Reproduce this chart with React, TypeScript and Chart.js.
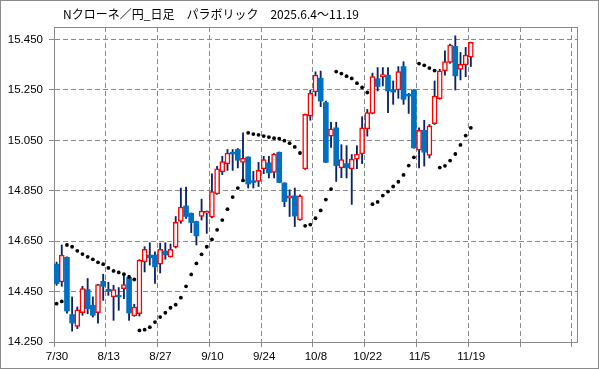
import React, { useEffect, useRef } from 'react';
import { Chart, registerables } from 'chart.js';

Chart.register(...registerables);

const TITLE = 'Nクローネ／円_日足　パラボリック　2025.6.4～11.19';

const dates = [
  '7/30', '7/31', '8/1', '8/4', '8/5', '8/6', '8/7', '8/8', '8/11', '8/12',
  '8/13', '8/14', '8/15', '8/18', '8/19', '8/20', '8/21', '8/22', '8/25', '8/26',
  '8/27', '8/28', '8/29', '9/1', '9/2', '9/3', '9/4', '9/5', '9/8', '9/9',
  '9/10', '9/11', '9/12', '9/15', '9/16', '9/17', '9/18', '9/19', '9/22', '9/23',
  '9/24', '9/25', '9/26', '9/29', '9/30', '10/1', '10/2', '10/3', '10/6', '10/7',
  '10/8', '10/9', '10/10', '10/13', '10/14', '10/15', '10/16', '10/17', '10/20', '10/21',
  '10/22', '10/23', '10/24', '10/27', '10/28', '10/29', '10/30', '10/31', '11/3', '11/4',
  '11/5', '11/6', '11/7', '11/10', '11/11', '11/12', '11/13', '11/14', '11/17', '11/18',
  '11/19',
];

const openP = [
  14.559, 14.488, 14.586, 14.359, 14.312, 14.366, 14.458, 14.396, 14.366, 14.491,
  14.459, 14.429, 14.435, 14.462, 14.506, 14.353, 14.362, 14.568, 14.595, 14.595,
  14.559, 14.611, 14.588, 14.626, 14.728, 14.790, 14.761, 14.728, 14.748, 14.761,
  14.745, 14.838, 14.925, 14.957, 15.003, 15.014, 14.963, 14.984, 14.890, 14.887,
  14.937, 14.961, 14.923, 15.003, 14.881, 14.821, 14.830, 14.734, 14.937, 15.146,
  15.242, 15.297, 15.200, 15.067, 15.100, 14.941, 14.958, 14.937, 14.976, 14.996,
  15.096, 15.157, 15.295, 15.303, 15.309, 15.250, 15.250, 15.343, 15.233, 15.250,
  15.011, 15.090, 14.990, 15.116, 15.216, 15.326, 15.359, 15.423, 15.332, 15.350,
  15.380,
];

const highP = [
  14.567, 14.635, 14.588, 14.429, 14.389, 14.471, 14.502, 14.429, 14.479, 14.519,
  14.487, 14.475, 14.466, 14.515, 14.515, 14.400, 14.577, 14.628, 14.644, 14.608,
  14.642, 14.644, 14.639, 14.748, 14.861, 14.865, 14.762, 14.730, 14.817, 14.770,
  14.917, 14.947, 14.987, 15.014, 15.014, 15.018, 15.080, 14.985, 14.927, 14.963,
  14.987, 14.987, 14.998, 15.004, 14.882, 14.854, 14.861, 14.834, 15.155, 15.250,
  15.322, 15.325, 15.206, 15.122, 15.122, 15.033, 15.029, 14.994, 15.029, 15.144,
  15.173, 15.317, 15.339, 15.339, 15.339, 15.286, 15.343, 15.362, 15.237, 15.252,
  15.100, 15.130, 15.113, 15.286, 15.332, 15.405, 15.432, 15.465, 15.399, 15.419,
  15.440,
];

const lowP = [
  14.475, 14.471, 14.364, 14.293, 14.303, 14.356, 14.362, 14.349, 14.325, 14.415,
  14.435, 14.336, 14.376, 14.422, 14.336, 14.352, 14.353, 14.528, 14.555, 14.482,
  14.524, 14.578, 14.587, 14.623, 14.721, 14.740, 14.684, 14.635, 14.734, 14.681,
  14.742, 14.836, 14.914, 14.931, 14.931, 14.941, 14.887, 14.861, 14.861, 14.867,
  14.918, 14.901, 14.901, 14.882, 14.787, 14.748, 14.708, 14.732, 14.935, 15.130,
  15.226, 15.184, 14.962, 15.022, 14.887, 14.902, 14.901, 14.796, 14.938, 14.958,
  15.067, 15.155, 15.246, 15.266, 15.160, 15.193, 15.217, 15.193, 15.157, 15.019,
  14.941, 14.948, 14.980, 15.113, 15.213, 15.309, 15.356, 15.250, 15.290, 15.303,
  15.343,
];

const closeP = [
  14.482, 14.595, 14.373, 14.325, 14.378, 14.462, 14.382, 14.356, 14.478, 14.471,
  14.451, 14.458, 14.429, 14.478, 14.365, 14.389, 14.575, 14.618, 14.584, 14.548,
  14.618, 14.595, 14.618, 14.725, 14.785, 14.748, 14.724, 14.671, 14.770, 14.769,
  14.847, 14.937, 14.966, 15.000, 14.996, 14.971, 14.980, 14.877, 14.883, 14.931,
  14.974, 14.921, 14.996, 14.883, 14.807, 14.830, 14.750, 14.830, 15.153, 15.237,
  15.309, 15.206, 14.963, 15.096, 14.950, 14.974, 14.941, 14.976, 14.996, 15.100,
  15.160, 15.303, 15.264, 15.311, 15.246, 15.242, 15.323, 15.213, 15.226, 15.020,
  15.090, 15.003, 15.108, 15.226, 15.326, 15.363, 15.428, 15.306, 15.352, 15.389,
  15.439,
];

const sarP = [
  14.402, 14.411, 14.635, 14.628, 14.612, 14.599, 14.588, 14.578, 14.566, 14.559,
  14.544, 14.532, 14.526, 14.519, 14.508, 14.498, 14.296, 14.299, 14.309, 14.329,
  14.349, 14.366, 14.386, 14.398, 14.426, 14.471, 14.518, 14.562, 14.598, 14.628,
  14.657, 14.695, 14.734, 14.777, 14.825, 14.861, 14.891, 15.080, 15.075, 15.072,
  15.067, 15.063, 15.059, 15.057, 15.049, 15.039, 15.024, 15.000, 14.711, 14.716,
  14.741, 14.772, 14.815, 14.857, 15.323, 15.315, 15.305, 15.296, 15.277, 15.260,
  15.240, 14.797, 14.806, 14.831, 14.847, 14.867, 14.886, 14.913, 14.950, 14.983,
  15.355, 15.348, 15.337, 15.327, 14.942, 14.949, 14.970, 14.996, 15.032, 15.069,
  15.100,
];

const yTicks = [14.25, 14.45, 14.65, 14.85, 15.05, 15.25, 15.45];
const xGridTicks = [-0.5, 9.5, 19.5, 29.5, 39.5, 49.5, 59.5, 69.5, 79.5, 89.5, 99.5];

const GRAY = '#8a8a8a';
const UP = '#ff0000';
const DOWN = '#0070c0';
const WICK = '#0c2366';

export default function App() {
  const ref = useRef<HTMLCanvasElement | null>(null);

  useEffect(() => {
    if (!ref.current) return;
    const idx = dates.map((_, i) => i);
    const isUp = idx.map((i) => closeP[i] >= openP[i]);

    const decor = {
      id: 'decor',
      beforeDatasetsDraw(chart: any) {
        const { ctx, chartArea: a } = chart;
        ctx.save();
        ctx.strokeStyle = GRAY;
        ctx.lineWidth = 1;
        const l = Math.round(a.left) + 0.5;
        const t = Math.round(a.top) + 0.5;
        const r = Math.round(a.right) + 0.5;
        const b = Math.round(a.bottom) + 0.5;
        ctx.strokeRect(l, t, r - l, b - t);
        ctx.restore();
      },
      afterDraw(chart: any) {
        const { ctx, width, height } = chart;
        ctx.save();
        ctx.strokeStyle = GRAY;
        ctx.lineWidth = 1;
        ctx.strokeRect(0.5, 0.5, width - 1, height - 1);
        ctx.fillStyle = '#000';
        ctx.font = "12px 'Noto Sans CJK JP', sans-serif";
        ctx.textAlign = 'left';
        ctx.textBaseline = 'middle';
        ctx.fillText(TITLE, 63, 14);
        ctx.restore();
      },
    };

    const chart = new Chart(ref.current, {
      type: 'bar',
      data: {
        datasets: [
          {
            type: 'scatter',
            data: sarP.map((v, i) => ({ x: i, y: v })),
            pointRadius: 1.9,
            pointBackgroundColor: '#000',
            pointBorderWidth: 0,
            pointStyle: 'circle',
            order: 0,
          } as any,
          {
            type: 'bar',
            data: idx.map((i) => ({ x: i, y: [openP[i], closeP[i]] })),
            backgroundColor: idx.map((i) => (isUp[i] ? '#ffffff' : DOWN)),
            borderColor: idx.map((i) => (isUp[i] ? UP : DOWN)),
            borderWidth: idx.map((i) => (isUp[i] ? 1.5 : 0)),
            borderSkipped: false,
            barThickness: 5,
            grouped: false,
            minBarLength: 1.5,
            order: 1,
          } as any,
          {
            type: 'bar',
            data: idx.map((i) => ({ x: i, y: [lowP[i], highP[i]] })),
            backgroundColor: WICK,
            borderWidth: 0,
            barThickness: 1.2,
            grouped: false,
            order: 2,
          } as any,
        ],
      },
      options: {
        responsive: false,
        animation: false,
        events: [],
        layout: { padding: { left: 0, top: 27, right: 22, bottom: 0 } },
        plugins: {
          legend: { display: false },
          title: { display: false },
          tooltip: { enabled: false },
        },
        scales: {
          x: {
            type: 'linear',
            min: -0.5,
            max: 100.5,
            offset: false,
            afterBuildTicks: (s: any) => {
              s.ticks = xGridTicks.map((v) => ({ value: v }));
            },
            afterFit: (s: any) => {
              s.height = 27;
            },
            grid: { offset: false, color: GRAY, lineWidth: 1, tickLength: 5, tickColor: GRAY },
            border: { display: true, color: GRAY, width: 1, dash: [5, 3] },
            ticks: {
              autoSkip: false,
              maxRotation: 0,
              padding: 3,
              labelOffset: 3,
              color: '#000',
              font: { family: "'Liberation Sans', Arial, sans-serif", size: 11.5 },
              callback: (v: any) => {
                const i = Math.round(Number(v) + 0.5);
                return i % 10 === 0 && dates[i] ? dates[i] : '';
              },
            },
          },
          y: {
            type: 'linear',
            min: 14.25,
            max: 15.5,
            afterBuildTicks: (s: any) => {
              s.ticks = yTicks.map((v) => ({ value: v }));
            },
            afterFit: (s: any) => {
              s.width = 54;
            },
            grid: { color: GRAY, lineWidth: 1, tickLength: 5, tickColor: GRAY },
            border: { display: true, color: GRAY, width: 1, dash: [5, 3] },
            ticks: {
              padding: 6,
              color: '#000',
              font: { family: "'Liberation Sans', Arial, sans-serif", size: 11.5 },
              callback: (v: any) => Number(v).toFixed(3),
            },
          },
        },
      } as any,
      plugins: [decor],
    });

    return () => chart.destroy();
  }, []);

  return (
    <div style={{ position: 'absolute', left: 0, top: 0, width: 599, height: 369, background: '#fff' }}>
      <canvas ref={ref} width={599} height={369} style={{ display: 'block', width: 599, height: 369 }} />
    </div>
  );
}
